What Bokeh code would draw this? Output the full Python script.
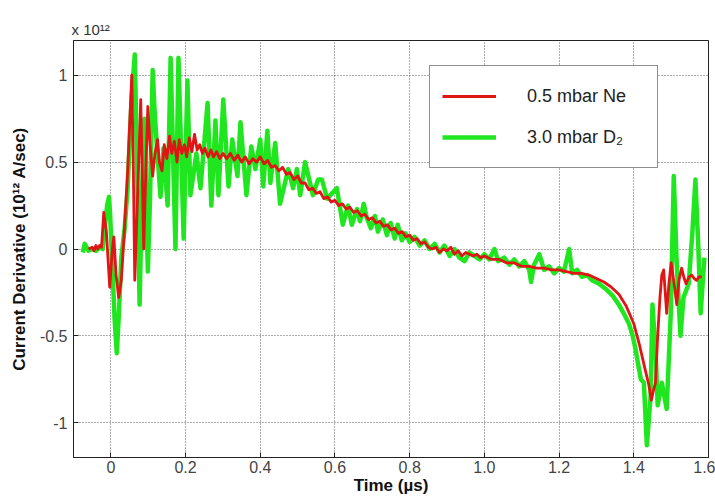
from bokeh.plotting import figure
from bokeh.models import (Range1d, FixedTicker, Legend, LegendItem)
from bokeh.embed import file_html
from bokeh.resources import INLINE

# ---------------- data ----------------
ne_time = [-0.060, -0.050, -0.045, -0.040, -0.035, -0.030, -0.025, -0.019, -0.012, -0.003,
           0.004, 0.008, 0.014, 0.021, 0.028, 0.036, 0.045, 0.056, 0.060, 0.064,
           0.070, 0.080, 0.084, 0.088, 0.093, 0.099, 0.105, 0.112, 0.118, 0.125,
           0.130, 0.137, 0.143, 0.150, 0.157, 0.163, 0.170, 0.177, 0.183, 0.190,
           0.197, 0.203, 0.210, 0.217, 0.224, 0.231, 0.238, 0.245, 0.252, 0.260,
           0.268, 0.275, 0.283, 0.292, 0.300, 0.310, 0.320, 0.330, 0.340, 0.350,
           0.360, 0.370, 0.380, 0.390, 0.400, 0.410, 0.420, 0.430, 0.440, 0.450,
           0.460, 0.470, 0.480, 0.490, 0.500, 0.510, 0.520, 0.530, 0.540, 0.550,
           0.560, 0.570, 0.580, 0.590, 0.600, 0.610, 0.620, 0.630, 0.640, 0.650,
           0.660, 0.670, 0.680, 0.690, 0.700, 0.710, 0.720, 0.730, 0.740, 0.750,
           0.760, 0.770, 0.780, 0.790, 0.800, 0.810, 0.820, 0.830, 0.840, 0.850,
           0.860, 0.870, 0.880, 0.890, 0.900, 0.910, 0.920, 0.930, 0.940, 0.950,
           0.960, 0.970, 0.980, 0.990, 1.000, 1.020, 1.040, 1.060, 1.080, 1.100,
           1.120, 1.140, 1.160, 1.180, 1.200, 1.220, 1.240, 1.260, 1.280, 1.300,
           1.320, 1.340, 1.360, 1.380, 1.400, 1.415, 1.430, 1.440, 1.447, 1.452,
           1.458, 1.464, 1.470, 1.475, 1.480, 1.488, 1.494, 1.500, 1.508, 1.515,
           1.521, 1.528, 1.535, 1.540, 1.548, 1.555, 1.562, 1.568, 1.575, 1.582]
ne_value = [0.00, 0.01, -0.01, 0.02, 0.00, 0.02, 0.01, 0.21, 0.10, -0.22,
            0.00, 0.07, -0.15, -0.28, -0.18, 0.10, 0.45, 1.00, 0.50, -0.18,
            0.20, 0.86, 0.45, 0.00, 0.40, 0.82, 0.60, 0.42, 0.55, 0.63,
            0.50, 0.45, 0.60, 0.52, 0.65, 0.55, 0.62, 0.50, 0.63, 0.55,
            0.60, 0.53, 0.64, 0.56, 0.66, 0.57, 0.60, 0.55, 0.58, 0.53,
            0.57, 0.53, 0.56, 0.52, 0.55, 0.52, 0.55, 0.51, 0.54, 0.50,
            0.53, 0.49, 0.52, 0.50, 0.53, 0.49, 0.51, 0.47, 0.48, 0.45,
            0.47, 0.43, 0.44, 0.40, 0.42, 0.38, 0.38, 0.34, 0.35, 0.32,
            0.33, 0.29, 0.30, 0.27, 0.28, 0.25, 0.26, 0.23, 0.24, 0.21,
            0.22, 0.19, 0.20, 0.17, 0.18, 0.15, 0.16, 0.13, 0.14, 0.11,
            0.12, 0.09, 0.10, 0.07, 0.08, 0.05, 0.06, 0.03, 0.04, 0.01,
            0.00, 0.01, -0.02, 0.00, -0.01, 0.01, -0.03, -0.01, -0.04, -0.02,
            -0.03, -0.04, -0.03, -0.05, -0.04, -0.06, -0.06, -0.08, -0.08, -0.10,
            -0.10, -0.11, -0.11, -0.12, -0.12, -0.13, -0.14, -0.14, -0.15, -0.17,
            -0.19, -0.22, -0.26, -0.33, -0.43, -0.55, -0.69, -0.78, -0.87, -0.82,
            -0.77, -0.50, -0.28, -0.15, -0.12, -0.37, -0.20, -0.08, -0.20, -0.32,
            -0.18, -0.11, -0.17, -0.20, -0.16, -0.15, -0.17, -0.18, -0.16, -0.16]

d2_time = [-0.075, -0.070, -0.065, -0.060, -0.050, -0.040, -0.030, -0.022, -0.015, -0.010,
           -0.005, -0.002, 0.004, 0.010, 0.016, 0.022, 0.028, 0.037, 0.045, 0.055,
           0.064, 0.070, 0.077, 0.083, 0.090, 0.099, 0.105, 0.112, 0.117, 0.123,
           0.133, 0.141, 0.152, 0.160, 0.173, 0.181, 0.195, 0.205, 0.213, 0.229,
           0.240, 0.259, 0.269, 0.280, 0.288, 0.301, 0.315, 0.325, 0.339, 0.347,
           0.363, 0.376, 0.387, 0.400, 0.408, 0.419, 0.427, 0.440, 0.453, 0.475,
           0.488, 0.498, 0.507, 0.520, 0.541, 0.555, 0.565, 0.579, 0.592, 0.605,
           0.621, 0.635, 0.645, 0.659, 0.667, 0.677, 0.685, 0.696, 0.707, 0.715,
           0.728, 0.739, 0.749, 0.760, 0.768, 0.779, 0.789, 0.800, 0.813, 0.827,
           0.840, 0.853, 0.867, 0.880, 0.893, 0.907, 0.920, 0.933, 0.947, 0.960,
           0.973, 0.987, 1.000, 1.013, 1.027, 1.037, 1.053, 1.067, 1.080, 1.093,
           1.107, 1.120, 1.125, 1.133, 1.147, 1.160, 1.173, 1.187, 1.200, 1.213,
           1.227, 1.235, 1.248, 1.261, 1.275, 1.288, 1.307, 1.325, 1.344, 1.360,
           1.373, 1.387, 1.397, 1.405, 1.413, 1.419, 1.427, 1.435, 1.445, 1.450,
           1.459, 1.464, 1.475, 1.488, 1.499, 1.507, 1.515, 1.525, 1.533, 1.547,
           1.557, 1.565, 1.573, 1.579, 1.589]
d2_value = [-0.02, 0.03, 0.01, -0.01, 0.00, -0.01, 0.01, 0.00, 0.15, 0.25,
            0.30, 0.20, -0.10, -0.40, -0.60, -0.35, -0.05, 0.12, 0.35, 0.85,
            1.12, 0.50, -0.32, 0.30, 0.75, -0.13, 0.30, 1.03, 0.80, 0.60,
            0.30, 0.58, 0.25, 1.10, 0.00, 1.10, 0.06, 0.97, 0.31, 0.55,
            0.35, 0.84, 0.25, 0.74, 0.31, 0.86, 0.36, 0.63, 0.42, 0.73,
            0.31, 0.59, 0.46, 0.63, 0.36, 0.68, 0.38, 0.61, 0.26, 0.46,
            0.35, 0.46, 0.31, 0.50, 0.31, 0.40, 0.40, 0.29, 0.32, 0.35,
            0.14, 0.25, 0.14, 0.23, 0.16, 0.26, 0.18, 0.12, 0.19, 0.10,
            0.17, 0.08, 0.15, 0.06, 0.14, 0.05, 0.09, 0.04, 0.07, 0.02,
            0.05, 0.00, 0.03, -0.02, 0.02, -0.04, 0.00, -0.05, -0.07, -0.02,
            -0.04, -0.06, -0.03, -0.06, 0.00, -0.07, -0.05, -0.09, -0.06, -0.10,
            -0.07, -0.12, -0.19, -0.09, -0.03, -0.12, -0.10, -0.14, -0.11, -0.13,
            0.00, -0.14, -0.12, -0.16, -0.15, -0.18, -0.20, -0.23, -0.27, -0.32,
            -0.37, -0.43, -0.50, -0.58, -0.68, -0.75, -0.77, -1.13, -0.85, -0.32,
            -0.62, -0.90, -0.77, -0.92, -0.37, 0.42, -0.09, -0.50, -0.28, -0.20,
            0.10, 0.40, 0.00, -0.37, -0.05]

x_ticks = [0, 0.2, 0.4, 0.6, 0.8, 1.0, 1.2, 1.4, 1.6]
x_tick_labels = ["0", "0.2", "0.4", "0.6", "0.8", "1.0", "1.2", "1.4", "1.6"]
y_ticks = [-1, -0.5, 0, 0.5, 1]
y_tick_labels = ["-1", "-0.5", "0", "0.5", "1"]

series_labels = ["0.5 mbar Ne", "3.0 mbar D\u2082"]
x_label = "Time (\u00b5s)"
y_label = "Current Derivative (10\u00b9\u00b2 A/sec)"
scale_note = "x 10\u00b9\u00b2"

FONT = "Liberation Sans"
TICK_COLOR = "#444444"

p = figure(width=715, height=499, output_backend="svg", toolbar_location=None,
           x_range=Range1d(-0.1, 1.6), y_range=Range1d(-1.2, 1.2),
           min_border_left=73, min_border_right=7, min_border_top=40, min_border_bottom=42)
p.background_fill_color = "white"
p.border_fill_color = "white"
p.outline_line_color = "#222222"
p.outline_line_width = 1

p.title.text = scale_note
p.title.align = "left"
p.title.text_font = FONT
p.title.text_font_size = "15px"
p.title.text_font_style = "normal"
p.title.text_color = "#333333"
p.title.standoff = 5
p.title.offset = -2

green = p.line(d2_time, d2_value, line_color="#1fe61f", line_width=4.5, line_join="round")
red = p.line(ne_time, ne_value, line_color="#e01515", line_width=2.8, line_join="round")

for ax in (p.xaxis[0], p.yaxis[0]):
    ax.major_label_text_font = FONT
    ax.major_label_text_font_size = "16px"
    ax.major_label_text_color = TICK_COLOR
    ax.axis_label_text_font = FONT
    ax.axis_label_text_font_size = "17px"
    ax.axis_label_text_font_style = "bold"
    ax.axis_label_text_color = "#111111"
    ax.axis_line_color = "#222222"
    ax.major_tick_in = 5
    ax.major_tick_out = 0
    ax.major_tick_line_color = "#222222"
    ax.minor_tick_line_color = None

p.xaxis.ticker = FixedTicker(ticks=x_ticks)
p.yaxis.ticker = FixedTicker(ticks=y_ticks)
p.xaxis.major_label_overrides = dict(zip(x_ticks, x_tick_labels))
p.yaxis.major_label_overrides = dict(zip(y_ticks, y_tick_labels))
p.xaxis.axis_label = x_label
p.yaxis.axis_label = y_label
p.xaxis.major_label_standoff = 3
p.xaxis.axis_label_standoff = 0
p.yaxis.major_label_standoff = 6
p.yaxis.axis_label_standoff = 8

p.grid.grid_line_color = "#333333"
p.grid.grid_line_dash = "1 2"
p.grid.grid_line_alpha = 0.8
p.xgrid.ticker = FixedTicker(ticks=x_ticks)
p.ygrid.ticker = FixedTicker(ticks=y_ticks)

legend = Legend(items=[LegendItem(label=series_labels[0], renderers=[red]),
                       LegendItem(label=series_labels[1], renderers=[green])],
                location=(356, 289))
legend.label_text_font = FONT
legend.label_text_font_size = "18px"
legend.label_text_color = "#222222"
legend.glyph_width = 54
legend.glyph_height = 36
legend.label_height = 36
legend.label_width = 118
legend.label_standoff = 31
legend.spacing = 5
legend.padding = 12
legend.margin = 0
legend.border_line_color = "#222222"
legend.border_line_width = 1
legend.background_fill_color = "white"
legend.background_fill_alpha = 1
p.add_layout(legend, "center")

open("out.html", "w").write(file_html(p, INLINE))
